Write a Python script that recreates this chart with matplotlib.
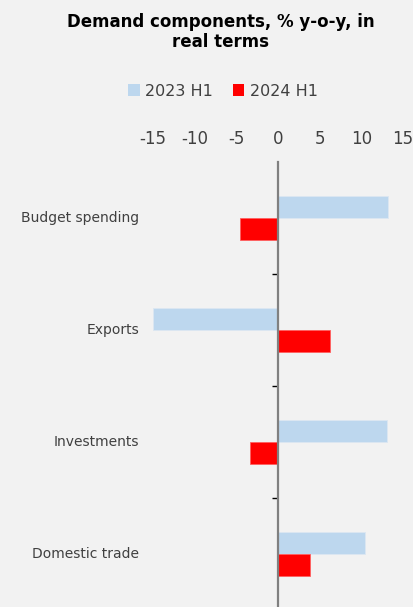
import numpy as np
import matplotlib.pyplot as plt
import matplotlib.transforms as mtransforms
from matplotlib.patches import Patch

categories = ['Budget spending', 'Exports', 'Investments', 'Domestic trade']
h1_2023 = [13.2, -15.0, 13.1, 10.4]
h1_2024 = [-4.5, 6.3, -3.4, 3.9]
series_names = ['2023 H1', '2024 H1']
xticks = [-15, -10, -5, 0, 5, 10, 15]

bg = '#F2F2F2'
blue = '#BDD7EE'
red = '#FF0000'
txt = '#404040'

fig = plt.figure(figsize=(4.14, 6.07), dpi=100, facecolor=bg)
W, H = 414, 607
# plot area in pixels: x 153..403, y 162..610
ax = fig.add_axes([153 / W, (H - 610) / H, 250 / W, 448 / H])
ax.set_facecolor(bg)

y = np.arange(len(categories))
bh = 0.2
ax.barh(y - bh / 2, h1_2023, height=bh, color=blue, edgecolor='#DCE7F2', linewidth=0.6)
ax.barh(y + bh / 2, h1_2024, height=bh, color=red, edgecolor='#FF6060', linewidth=0.6)

ax.set_xlim(-15, 15)
ax.set_ylim(len(categories) - 0.5, -0.5)

for s in ['top', 'right', 'bottom']:
    ax.spines[s].set_visible(False)
ax.spines['left'].set_position(('data', 0))
ax.spines['left'].set_color('#808080')
ax.spines['left'].set_linewidth(1.6)

ax.xaxis.tick_top()
ax.set_xticks(xticks)
ax.set_xticklabels([str(v) for v in xticks])
ax.tick_params(axis='x', length=0, pad=10, labelsize=12, labelcolor=txt)

ax.set_yticks(np.arange(len(categories) - 1) + 0.5)
ax.set_yticklabels([])
ax.tick_params(axis='y', length=4, width=1, color='black', direction='out')

trans = mtransforms.blended_transform_factory(fig.transFigure, ax.transData)
for i, c in enumerate(categories):
    ax.text(139 / W, i, c, transform=trans, ha='right', va='center',
            fontsize=10, color=txt)

fig.text(221 / W, 1 - 32 / H, 'Demand components, % y-o-y, in\nreal terms',
         ha='center', va='center', fontsize=12, fontweight='bold',
         color='black', linespacing=1.2)

handles = [Patch(facecolor=blue), Patch(facecolor=red)]
fig.legend(handles, series_names, loc='center', bbox_to_anchor=(223 / W, 1 - 91 / H),
           ncol=2, frameon=False, fontsize=11.5, handlelength=0.75, handleheight=0.75,
           handletextpad=0.35, columnspacing=1.2, labelcolor=txt)

fig.savefig('out.png', dpi=100, facecolor=bg)
